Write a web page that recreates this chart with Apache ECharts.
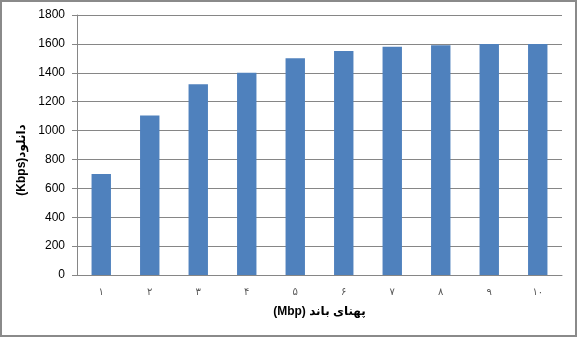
<!DOCTYPE html>
<html>
<head>
<meta charset="utf-8">
<script src="https://cdn.jsdelivr.net/npm/echarts@6/dist/echarts.min.js"></script>
<style>
html,body{margin:0;padding:0;background:#fff;}
#c{width:577px;height:337px;}
</style>
</head>
<body>
<div id="c"></div>
<script>
const categories = ['۱','۲','۳','۴','۵','۶','۷','۸','۹','۱۰'];
const downloadValues = [700, 1105, 1320, 1400, 1500, 1550, 1580, 1590, 1600, 1600];
const yTicks = { min: 0, max: 1800, interval: 200 };
const xTitle = '(Mbp) پهنای باند';
const yTitle = '(Kbps)دانلود';

const chart = echarts.init(document.getElementById('c'), null, { renderer: 'canvas' });
const fontFam = '"Liberation Sans", "DejaVu Sans", Arial, sans-serif';
chart.setOption({
  animation: false,
  backgroundColor: '#ffffff',
  grid: { left: 77, right: 15, top: 15, bottom: 62, containLabel: false },
  xAxis: {
    type: 'category',
    data: categories,
    name: xTitle,
    nameLocation: 'middle',
    nameGap: 31,
    nameTextStyle: { fontFamily: fontFam, fontWeight: 'bold', fontSize: 12, color: '#000' },
    axisLine: { lineStyle: { color: '#868686', width: 1 } },
    axisTick: { show: false },
    axisLabel: { fontFamily: fontFam, fontSize: 10, color: '#595959', margin: 12 }
  },
  yAxis: {
    type: 'value',
    min: yTicks.min, max: yTicks.max, interval: yTicks.interval,
    name: yTitle,
    nameLocation: 'middle',
    nameGap: 37,
    nameRotate: 90,
    nameTextStyle: { fontFamily: fontFam, fontWeight: 'bold', fontSize: 12, color: '#000', padding: [0, 30, 0, 0] },
    axisLine: { show: true, lineStyle: { color: '#868686', width: 1 } },
    axisTick: { show: true, length: 5, lineStyle: { color: '#868686' } },
    axisLabel: { fontFamily: fontFam, fontSize: 12, color: '#000', margin: 12, formatter: function (v) { return String(v); } },
    splitLine: { show: true, lineStyle: { color: '#868686', width: 1 } }
  },
  graphic: [{
    type: 'rect',
    shape: { x: 1, y: 1, width: 575, height: 335 },
    style: { fill: null, stroke: '#8a8a8a', lineWidth: 2 },
    silent: true
  }],
  series: [{
    type: 'bar',
    data: downloadValues,
    barWidth: '40%',
    itemStyle: { color: '#4F81BD' }
  }]
});
</script>
</body>
</html>
